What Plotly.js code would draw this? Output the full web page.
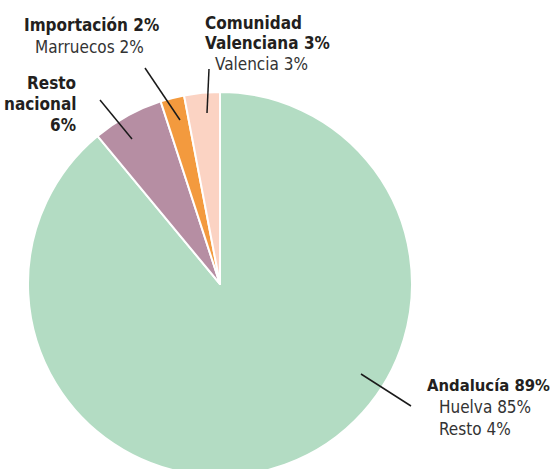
<!DOCTYPE html>
<html>
<head>
<meta charset="utf-8">
<script src="https://cdn.plot.ly/plotly-3.0.1.min.js"></script>
<style>
html, body { margin: 0; padding: 0; overflow: hidden; background: #fff; }
#chart { width: 555px; height: 500px; }
</style>
</head>
<body>
<div id="chart"></div>
<script>
// Data
const categories = ["Andalucía", "Resto nacional", "Importación", "Comunidad Valenciana"];
const shares = [89, 6, 2, 3];
const sliceColors = ["#b3dcc3", "#b68ea3", "#f39a3e", "#fbd3c3"];

// Label texts (title line + detail lines)
const labelTitles = [
  ["Andalucía 89%"],
  ["Resto", "nacional", "6%"],
  ["Importación 2%"],
  ["Comunidad", "Valenciana 3%"]
];
const labelDetails = [
  ["Huelva 85%", "Resto 4%"],
  [],
  ["Marruecos 2%"],
  ["Valencia 3%"]
];

const W = 555, H = 500;
const px = x => x / W;
const py = y => (H - y) / H;
const FONT = "'DejaVu Sans Condensed', 'Liberation Sans Narrow', sans-serif";
const DARK = "#231f20";

const labelPos = [
  {x: 552, y: 385.5, anchor: "right", step: 21, dx: 437, dy: 407, dstep: 21.5, danchor: "left", size: 16.5},
  {x: 78, y: 82.7, anchor: "right", step: 21.2, dx: 78, dy: 0, dstep: 0, danchor: "right", size: 17},
  {x: 91, y: 25, anchor: "center", step: 21, dx: 89, dy: 47.5, dstep: 21, danchor: "center", size: 17},
  {x: 203, y: 22.5, anchor: "left", step: 20.5, dx: 213, dy: 64, dstep: 21, danchor: "left", size: 17}
];
// Leader lines (pixels): outer end -> inner end
const leaders = [
  [411, 406, 361, 374],
  [100, 100, 132, 139],
  [145, 68, 180, 120],
  [209, 69, 207, 113]
];

const annotations = [];
labelTitles.forEach((lines, i) => {
  const p = labelPos[i];
  lines.forEach((t, j) => {
    annotations.push({
      xref: "paper", yref: "paper", x: px(p.x), y: py(p.y + j * p.step),
      xanchor: p.anchor, yanchor: "middle", showarrow: false,
      text: "<b>" + t + "</b>",
      font: {family: FONT, size: p.size, color: DARK}
    });
  });
  labelDetails[i].forEach((t, j) => {
    annotations.push({
      xref: "paper", yref: "paper", x: px(p.dx), y: py(p.dy + j * p.dstep),
      xanchor: p.danchor, yanchor: "middle", showarrow: false,
      text: t,
      font: {family: FONT, size: 17, color: "#333333"}
    });
  });
});

const shapes = leaders.map(l => ({
  type: "line", xref: "paper", yref: "paper",
  x0: px(l[0]), y0: py(l[1]), x1: px(l[2]), y1: py(l[3]),
  line: {color: "#1a1a1a", width: 1.5}
}));

const trace = {
  type: "pie",
  labels: categories,
  values: shares,
  marker: {colors: sliceColors, line: {color: "#ffffff", width: 2}},
  sort: false,
  direction: "clockwise",
  rotation: 0,
  textinfo: "none",
  hoverinfo: "none",
  showlegend: false,
  domain: {x: [px(28), px(412)], y: [py(476), py(92)]}
};

Plotly.newPlot("chart", [trace], {
  width: W, height: H,
  margin: {l: 0, r: 0, t: 0, b: 0},
  paper_bgcolor: "#ffffff",
  showlegend: false,
  annotations: annotations,
  shapes: shapes
}, {staticPlot: true});
</script>
</body>
</html>
